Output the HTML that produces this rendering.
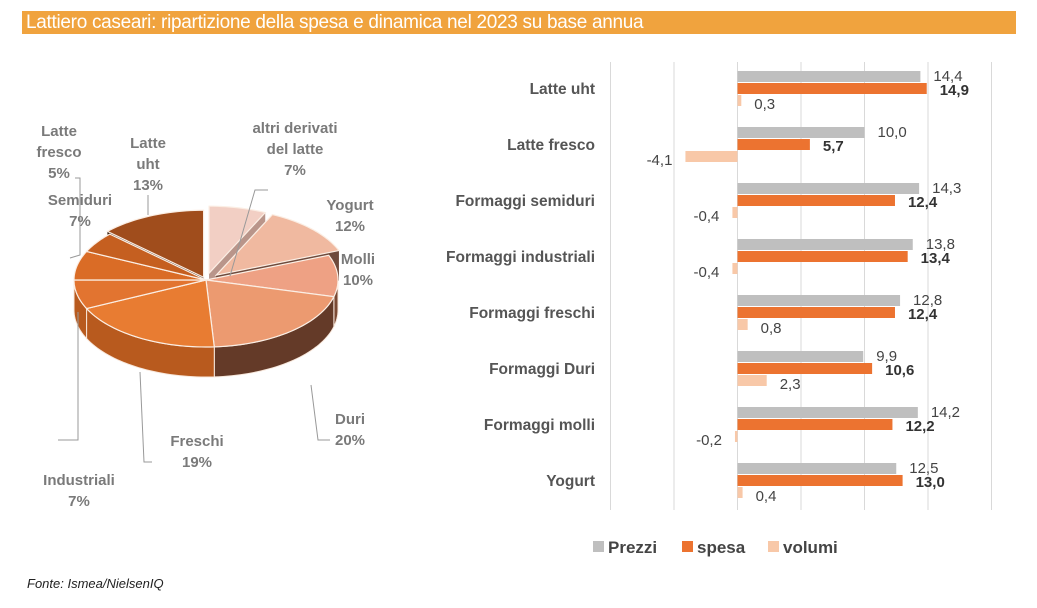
<!DOCTYPE html>
<html><head><meta charset="utf-8">
<style>
body{margin:0;width:1037px;height:608px;background:#fff;font-family:"Liberation Sans",sans-serif;position:relative;overflow:hidden}
#title{position:absolute;left:22px;top:11px;width:994px;height:23px;background:#f0a33e;color:#fff;font-size:19px;line-height:23px;padding-left:4px;box-sizing:border-box;letter-spacing:-0.3px}
#src{position:absolute;left:27px;top:576px;font-size:13px;font-style:italic;color:#222}
svg{position:absolute;left:0;top:0}
</style></head><body>
<div id="title">Lattiero caseari: ripartizione della spesa e dinamica nel 2023 su base annua</div>
<div id="src">Fonte: Ismea/NielsenIQ</div>
<svg id="svg" width="1037" height="608"></svg>
<script>
const pieLabels=["altri derivati del latte","Yogurt","Molli","Duri","Freschi","Industriali","Semiduri","Latte fresco","Latte uht"];
const pieValues=[7,12,10,20,19,7,7,5,13];
const categories=["Latte uht","Latte fresco","Formaggi semiduri","Formaggi industriali","Formaggi freschi","Formaggi Duri","Formaggi molli","Yogurt"];
const prezzi=[14.4,10.0,14.3,13.8,12.8,9.9,14.2,12.5];
const spesa=[14.9,5.7,12.4,13.4,12.4,10.6,12.2,13.0];
const volumi=[0.3,-4.1,-0.4,-0.4,0.8,2.3,-0.2,0.4];
const xTicks=[-10,-5,0,5,10,15,20];

const NS="http://www.w3.org/2000/svg";
const svg=document.getElementById('svg');
function mk(t,a,p){const e=document.createElementNS(NS,t);for(const k in a)e.setAttribute(k,a[k]);(p||svg).appendChild(e);return e;}
const fmt=v=>v.toFixed(1).replace('.',',');

// ---- Pie ----
const pie=mk('g',{});


const topCols=["#f2cfc4","#f0b9a0","#eea184","#ec9a70","#e87c32","#e27430","#da6c26","#c55f20","#a04d1c"];
const sideCols=["#b9958a","#6e4a3c","#7a4a35","#643a28","#b85a1e","#b85a1e","#a8521c","#5a2e12","#3a1e0c"];
const explode=[14,14,0,0,0,0,0,0,6];
const cx=206,cy=280,rx=132,ry=67,dep=30;
const tot=pieValues.reduce((a,b)=>a+b,0);
let acc=0;const slices=[];
pieValues.forEach((v,i)=>{const a1=acc/tot*2*Math.PI;acc+=v;const a2=acc/tot*2*Math.PI;slices.push([a1,a2]);});
function pt(a,ox,oy,dy){return [cx+ox+rx*Math.sin(a),cy+oy-ry*Math.cos(a)+(dy||0)];}
function arcPts(a1,a2,ox,oy,dy){const r=[];const n=Math.max(2,Math.ceil((a2-a1)*30));for(let k=0;k<=n;k++){r.push(pt(a1+(a2-a1)*k/n,ox,oy,dy));}return r;}
slices.forEach(([a1,a2],i)=>{
  const m=(a1+a2)/2,ox=explode[i]*Math.sin(m),oy=explode[i]*0.5*-Math.cos(m);
  const s=Math.max(a1,Math.PI/2),e=Math.min(a2,Math.PI*1.5);
  if(e>s){const top=arcPts(s,e,ox,oy,0),bot=arcPts(s,e,ox,oy,dep).reverse();
    const p=mk('path',{d:'M'+top.concat(bot).map(q=>q.join(',')).join('L')+'Z',fill:sideCols[i],stroke:'#f8e8dc','stroke-width':1},pie);
    }
  if(explode[i]){[a1,a2].forEach(a=>{const c0=[cx+ox,cy+oy],c1=pt(a,ox,oy);
    const f=mk('path',{d:`M${c0}L${c1}L${c1[0]},${c1[1]+dep}L${c0[0]},${c0[1]+dep}Z`,fill:sideCols[i]},pie);
    });}
});
slices.forEach(([a1,a2],i)=>{
  const m=(a1+a2)/2,ox=explode[i]*Math.sin(m),oy=explode[i]*0.5*-Math.cos(m);
  const pts=arcPts(a1,a2,ox,oy,0);
  const p=mk('path',{d:`M${cx+ox},${cy+oy}L`+pts.map(q=>q.join(',')).join('L')+'Z',fill:topCols[i],stroke:'#fbeee4','stroke-width':1.2},pie);
  
  
});
[["M268,190 L255,190 L230,276"],["M311,385 L318,440 L330,440"],["M140,372 L144,462 L152,462"],["M78,312 L78,440 L58,440"],["M75,178 L80,178 L80,255 L70,258"],["M148,195 L148,215"]].forEach(d=>{
  const l=mk('path',{d:d[0],fill:'none',stroke:'#999','stroke-width':1},pie);
  });
const pieLab=[[["altri derivati","del latte","7%"],295,133],[["Yogurt","12%"],350,210],[["Molli","10%"],358,264],[["Duri","20%"],350,424],[["Freschi","19%"],197,446],[["Industriali","7%"],79,485],[["Semiduri","7%"],80,205],[["Latte","fresco","5%"],59,136],[["Latte","uht","13%"],148,148]];
pieLab.forEach(([lines,x,y],i)=>{
  const t=mk('text',{x:x,y:y,'text-anchor':'middle','font-size':15,'font-weight':'bold',fill:'#7a7a7a'},pie);
  
  lines.forEach((s,k)=>{const ts=mk('tspan',{x:x,dy:k?21:0},t);ts.textContent=s;});
});

// ---- Bars ----
const x0=737.5,ppu=12.7;
const X=v=>x0+v*ppu;
const top0=62,band=56;
const bars=mk('g',{});


xTicks.forEach(t=>{const l=mk('line',{x1:X(t),x2:X(t),y1:62,y2:510,stroke:'#d9d9d9','stroke-width':1},bars);
  });
const series=[[prezzi,'#bfbfbf','normal','prezzi'],[spesa,'#ec7330','bold','spesa'],[volumi,'#f8c8a8','normal','volumi']];
categories.forEach((c,i)=>{
  const gy=top0+band*i+9;
  const ct=mk('text',{x:595,y:gy+23,'text-anchor':'end','font-size':15.5,'font-weight':'bold',fill:'#555'},bars);
  ct.textContent=c;
  series.forEach(([arr,col,fw,nm],s)=>{
    const v=arr[i],y=gy+s*12;
    const r=mk('rect',{x:Math.min(X(0),X(v)),y:y,width:Math.abs(X(v)-X(0)),height:11,fill:col},bars);
    
    const lx=v>=0?X(v)+13:X(v)-13;
    const t=mk('text',{x:lx,y:y+(s==0?10:s==1?12:14),'text-anchor':v>=0?'start':'end','font-size':15,'font-weight':fw,fill:fw=='bold'?'#333':'#444'},bars);
    t.textContent=fmt(v);
  });
});
[['Prezzi','#bfbfbf',593],['spesa','#ec7330',682],['volumi','#f8c8a8',768]].forEach(([n,c,x])=>{
  const r=mk('rect',{x:x,y:541,width:11,height:11,fill:c},bars);
  
  const t=mk('text',{x:x+15,y:553,'font-size':17,'font-weight':'bold',fill:'#444'},bars);
  t.textContent=n;
});
</script>
</body></html>
